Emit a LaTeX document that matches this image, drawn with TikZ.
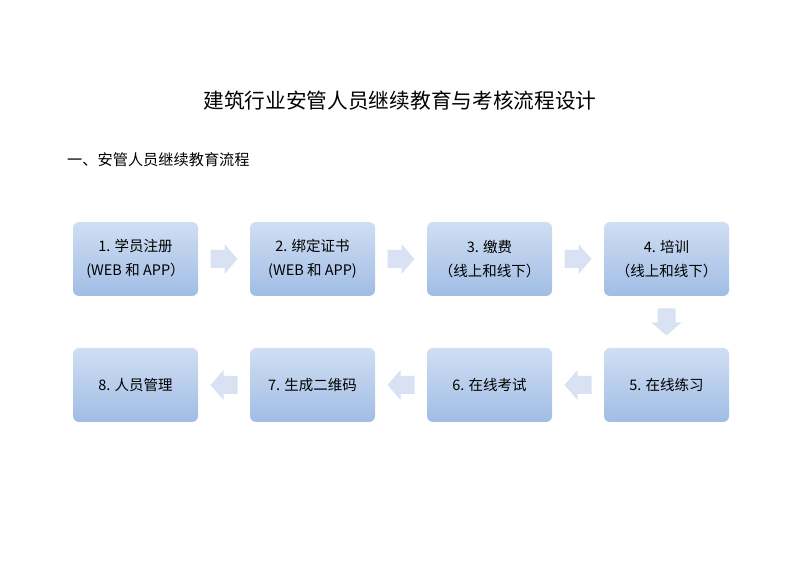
\documentclass[tikz,border=0pt]{standalone}
\usepackage{fontspec}
\setmainfont{Noto Sans CJK SC}
\usetikzlibrary{calc}
\definecolor{boxtop}{RGB}{208,222,242}
\definecolor{boxbot}{RGB}{160,189,229}
\definecolor{arrowfill}{RGB}{216,226,242}
\tikzset{
  stepbox/.style={rounded corners=6pt, minimum width=125pt, minimum height=74pt,
    top color=boxtop, bottom color=boxbot, draw=none, align=center,
    font=\fontsize{14.5}{24}\selectfont, inner sep=2pt},
  barrow/.pic={\fill[arrowfill] (-13.5,-9) -- (0.5,-9) -- (0.5,-15) -- (13.5,0) -- (0.5,15) -- (0.5,9) -- (-13.5,9) -- cycle;}
}
\begin{document}
\begin{tikzpicture}[x=1pt,y=1pt]
\useasboundingbox (0,0) rectangle (800,565);
\node[font=\fontsize{20.7}{22}\selectfont] (title) at (400,464) {建筑行业安管人员继续教育与考核流程设计};
\node[font=\fontsize{15.2}{17}\selectfont, anchor=west, inner sep=0pt] (sub) at (67,405) {一、安管人员继续教育流程};
\node[stepbox] (b1) at (135.5,306) {1. 学员注册\\(WEB 和 APP）};
\node[stepbox] (b2) at (312.5,306) {2. 绑定证书\\(WEB 和 APP)};
\node[stepbox] (b3) at (489.5,306) {3. 缴费\\（线上和线下）};
\node[stepbox] (b4) at (666.5,306) {4. 培训\\（线上和线下）};
\node[stepbox] (b5) at (666.5,180) {5. 在线练习};
\node[stepbox] (b6) at (489.5,180) {6. 在线考试};
\node[stepbox] (b7) at (312.5,180) {7. 生成二维码};
\node[stepbox] (b8) at (135.5,180) {8. 人员管理};
\pic at ($(b1.east)!0.5!(b2.west)$) {barrow};
\pic at ($(b2.east)!0.5!(b3.west)$) {barrow};
\pic at ($(b3.east)!0.5!(b4.west)$) {barrow};
\pic[rotate=-90] at ($(b4.south)!0.5!(b5.north)$) {barrow};
\pic[rotate=180] at ($(b5.west)!0.5!(b6.east)$) {barrow};
\pic[rotate=180] at ($(b6.west)!0.5!(b7.east)$) {barrow};
\pic[rotate=180] at ($(b7.west)!0.5!(b8.east)$) {barrow};
\end{tikzpicture}
\end{document}
